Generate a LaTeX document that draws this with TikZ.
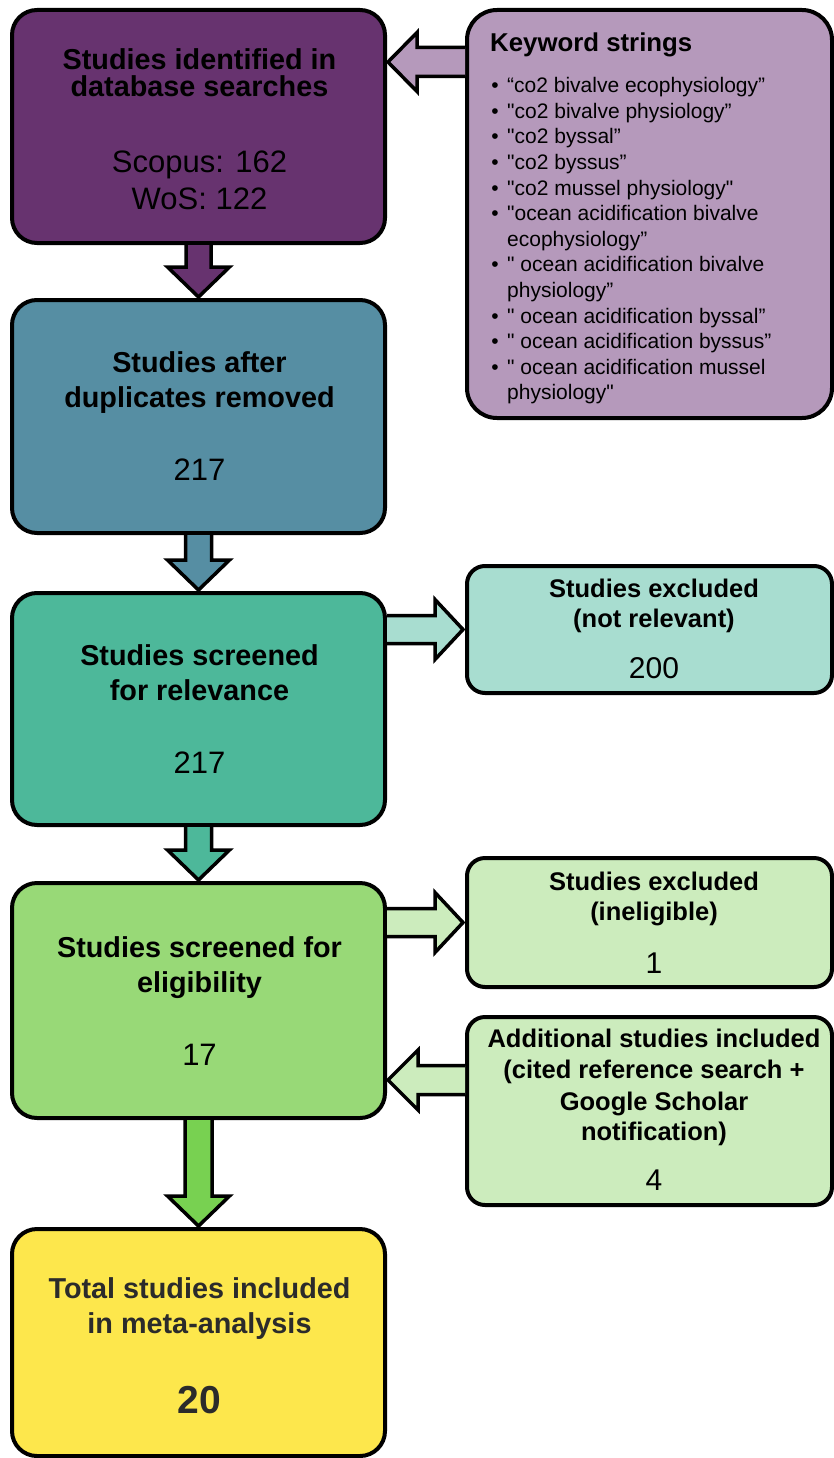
\documentclass[tikz,border=0pt]{standalone}
\usepackage{fontspec}
\setmainfont{Liberation Sans}[Ligatures=TeXOff]
\usetikzlibrary{calc}
\definecolor{cPurple}{HTML}{67336F}
\definecolor{cLilac}{HTML}{B599BB}
\definecolor{cSteel}{HTML}{568EA3}
\definecolor{cTeal}{HTML}{4DB89A}
\definecolor{cMint}{HTML}{A8DDD0}
\definecolor{cGreen}{HTML}{98D977}
\definecolor{cPale}{HTML}{CCECBD}
\definecolor{cYellow}{HTML}{FDE74C}
\definecolor{cLime}{HTML}{78D151}
\definecolor{cDark}{HTML}{2B2B2B}
\newcommand\vblock[4]{%
  \draw[blk,fill=#3] ($(#1.south)+(-#4,2)$) -- ($(#2.north)+(-#4,-33)$) -- ($(#2.north)+(-31,-33)$) -- ($(#2.north)+(0,-3)$) -- ($(#2.north)+(31,-33)$) -- ($(#2.north)+(#4,-33)$) -- ($(#1.south)+(#4,2)$);}
\begin{document}
\begin{tikzpicture}[x=1pt,y=-1pt,
 box/.style={draw=black,line width=4pt,rounded corners=25pt,inner sep=0pt,outer sep=0pt},
 blk/.style={draw=black,line width=3.5pt,line join=miter,miter limit=10},
 thd/.style={anchor=base,inner sep=0pt,font=\fontsize{28.8}{34}\selectfont\bfseries},
 tnum/.style={anchor=base,inner sep=0pt,font=\fontsize{31}{37}\selectfont},
 tsh/.style={anchor=base,inner sep=0pt,font=\fontsize{25.5}{30}\selectfont\bfseries},
 tsn/.style={anchor=base,inner sep=0pt,font=\fontsize{30}{36}\selectfont},
 kwh/.style={anchor=base west,inner sep=0pt,font=\fontsize{25.8}{30}\selectfont\bfseries},
 kwi/.style={anchor=base west,inner sep=0pt,font=\fontsize{21}{25}\selectfont},
 kwb/.style={anchor=base,inner sep=0pt,font=\fontsize{21}{25}\selectfont},
]
\useasboundingbox (0,0) rectangle (834,1458);

% boxes
\node[box,fill=cPurple,minimum width=373pt,minimum height=233pt] (b1) at (198.5,126.5) {};
\node[box,fill=cLilac,rounded corners=30pt,minimum width=365pt,minimum height=408pt] (kw) at (649.5,214) {};
\node[box,fill=cSteel,minimum width=373pt,minimum height=233pt] (b2) at (198.5,416.5) {};
\node[box,fill=cTeal,minimum width=373pt,minimum height=232pt] (b3) at (198.5,709) {};
\node[box,fill=cMint,rounded corners=18pt,minimum width=365pt,minimum height=127pt] (e1) at (649.5,629.5) {};
\node[box,fill=cGreen,minimum width=373pt,minimum height=235pt] (b4) at (198.5,1000.5) {};
\node[box,fill=cPale,rounded corners=18pt,minimum width=365pt,minimum height=129pt] (e2) at (649.5,922.5) {};
\node[box,fill=cPale,rounded corners=18pt,minimum width=365pt,minimum height=188pt] (ad) at (649.5,1111) {};
\node[box,fill=cYellow,minimum width=373pt,minimum height=227pt] (b5) at (198.5,1342.5) {};

% vertical block arrows
\vblock{b1}{b2}{cPurple}{12.5}
\vblock{b2}{b3}{cSteel}{13}
\vblock{b3}{b4}{cTeal}{13}
\vblock{b4}{b5}{cLime}{13.5}

% right block arrows
\draw[blk,fill=cMint] ($(b3.east |- e1.west)+(2,-14)$) -- ($(e1.west)+(-32,-14)$) -- ($(e1.west)+(-32,-30)$) -- ($(e1.west)+(-4,0)$) -- ($(e1.west)+(-32,30)$) -- ($(e1.west)+(-32,14)$) -- ($(b3.east |- e1.west)+(2,14)$);
\draw[blk,fill=cPale] ($(b4.east |- e2.west)+(2,-14)$) -- ($(e2.west)+(-32,-14)$) -- ($(e2.west)+(-32,-30)$) -- ($(e2.west)+(-4,0)$) -- ($(e2.west)+(-32,30)$) -- ($(e2.west)+(-32,14)$) -- ($(b4.east |- e2.west)+(2,14)$);

% left block arrows
\coordinate (k1) at ($(b1.east |- kw.north)+(0,52)$);
\draw[blk,fill=cLilac] ($(kw.west |- k1)+(-2,-14.5)$) -- ($(k1)+(32,-14.5)$) -- ($(k1)+(32,-29.5)$) -- ($(k1)+(3,0)$) -- ($(k1)+(32,29.5)$) -- ($(k1)+(32,14.5)$) -- ($(kw.west |- k1)+(-2,14.5)$);
\coordinate (k2) at ($(b4.east |- ad.north)+(0,63)$);
\draw[blk,fill=cPale] ($(ad.west |- k2)+(-2,-14.5)$) -- ($(k2)+(33,-14.5)$) -- ($(k2)+(33,-30)$) -- ($(k2)+(3,0)$) -- ($(k2)+(33,30)$) -- ($(k2)+(33,14.5)$) -- ($(ad.west |- k2)+(-2,14.5)$);

% box 1 text
\node[thd] (t1a) at (199.5,70) {Studies identified in};
\node[thd] (t1b) at (199.5,97) {database searches};
\node[tnum] (t1c) at (199.5,173) {Scopus: 162};
\node[tnum] (t1d) at (199.5,210) {WoS: 122};
% box 2 text
\node[thd] (t2a) at (199.5,372) {Studies after};
\node[thd] (t2b) at (199.5,407) {duplicates removed};
\node[tnum] (t2c) at (199.5,480) {217};
% box 3 text
\node[thd] (t3a) at (199.5,665) {Studies screened};
\node[thd] (t3b) at (199.5,700) {for relevance};
\node[tnum] (t3c) at (199.5,773) {217};
% box 4 text
\node[thd] (t4a) at (199.5,957) {Studies screened for};
\node[thd] (t4b) at (199.5,992) {eligibility};
\node[tnum] (t4c) at (199.5,1065) {17};
% box 5 text
\node[thd,text=cDark] (t5a) at (199.5,1298) {Total studies included};
\node[thd,text=cDark] (t5b) at (199.5,1333) {in meta-analysis};
\node[anchor=base,inner sep=0pt,font=\fontsize{39}{44}\selectfont\bfseries,text=cDark] (t5c) at (199.5,1413) {20};

% excluded 1
\node[tsh] (te1a) at (654,597) {Studies excluded};
\node[tsh] (te1b) at (654,627) {(not relevant)};
\node[tsn] (te1c) at (654,678) {200};
% excluded 2
\node[tsh] (te2a) at (654,890) {Studies excluded};
\node[tsh] (te2b) at (654,920) {(ineligible)};
\node[tsn] (te2c) at (654,973) {1};
% additional
\node[tsh] (tada) at (654,1047) {Additional studies included};
\node[tsh] (tadb) at (654,1078) {(cited reference search +};
\node[tsh] (tadc) at (654,1110) {Google Scholar};
\node[tsh] (tadd) at (654,1140) {notification)};
\node[tsn] (tade) at (654,1190) {4};

% keywords
\node[kwh] (kwt) at (490,52) {Keyword strings};
\node[kwb] (kb1) at (495,92.7) {•};
\node[kwi] (kl1) at (507,92.7) {“co2 bivalve ecophysiology”};
\node[kwb] (kb2) at (495,118.3) {•};
\node[kwi] (kl2) at (507,118.3) {"co2 bivalve physiology”};
\node[kwb] (kb3) at (495,143.9) {•};
\node[kwi] (kl3) at (507,143.9) {"co2 byssal”};
\node[kwb] (kb4) at (495,169.5) {•};
\node[kwi] (kl4) at (507,169.5) {"co2 byssus”};
\node[kwb] (kb5) at (495,195.1) {•};
\node[kwi] (kl5) at (507,195.1) {"co2 mussel physiology"};
\node[kwb] (kb6) at (495,220.7) {•};
\node[kwi] (kl6) at (507,220.7) {"ocean acidification bivalve};
\node[kwi] (kl7) at (507,246.3) {ecophysiology”};
\node[kwb] (kb8) at (495,271.9) {•};
\node[kwi] (kl8) at (507,271.9) {" ocean acidification bivalve};
\node[kwi] (kl9) at (507,297.5) {physiology”};
\node[kwb] (kb10) at (495,323.1) {•};
\node[kwi] (kl10) at (507,323.1) {" ocean acidification byssal”};
\node[kwb] (kb11) at (495,348.7) {•};
\node[kwi] (kl11) at (507,348.7) {" ocean acidification byssus”};
\node[kwb] (kb12) at (495,374.3) {•};
\node[kwi] (kl12) at (507,374.3) {" ocean acidification mussel};
\node[kwi] (kl13) at (507,399.9) {physiology"};
\end{tikzpicture}
\end{document}
